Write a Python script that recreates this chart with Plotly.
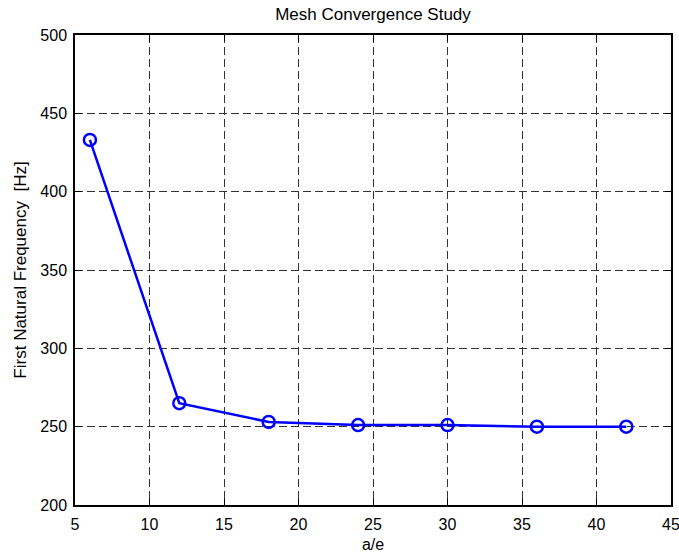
import plotly.graph_objects as go

ae = [6, 12, 18, 24, 30, 36, 42]
freq = [433, 265, 253, 251, 251, 250, 250]

x_ticks = [5, 10, 15, 20, 25, 30, 35, 40, 45]
y_ticks = [200, 250, 300, 350, 400, 450, 500]

FONT = "Liberation Sans, Arial"

fig = go.Figure()
fig.add_trace(go.Scatter(
    x=ae, y=freq, mode="lines+markers",
    line=dict(color="#0000ff", width=2.5),
    marker=dict(symbol="circle-open", size=12, color="#0000ff", line=dict(width=2.5, color="#0000ff")),
    showlegend=False,
))

axis_common = dict(
    showline=True, linecolor="black", linewidth=1.5, mirror="ticks",
    ticks="inside", ticklen=6, tickcolor="black",
    showgrid=True, gridcolor="#333333", griddash="8px,4px", gridwidth=1,
    zeroline=False, ticklabeloverflow="allow", automargin=False,
    tickfont=dict(family=FONT, size=16, color="black"),
)

fig.update_xaxes(range=[5, 45], tickvals=x_ticks, ticktext=[str(v) for v in x_ticks],
                 ticklabelstandoff=4,
                 title=dict(text="a/e", font=dict(family=FONT, size=16, color="black"), standoff=7),
                 **axis_common)
fig.update_yaxes(range=[200, 500], tickvals=y_ticks, ticktext=[str(v) for v in y_ticks],
                 ticklabelstandoff=3,
                 title=dict(text="First Natural Frequency  [Hz]", font=dict(family=FONT, size=17, color="black"), standoff=9),
                 **axis_common)

fig.update_layout(
    width=679, height=554,
    margin=dict(l=75, r=8, t=35, b=49),
    paper_bgcolor="white", plot_bgcolor="white",
    title=dict(text="Mesh Convergence Study", x=0.5, xanchor="center", xref="paper",
               y=1 - 14 / 554, yref="container", yanchor="middle",
               font=dict(family=FONT, size=17, color="black")),
)

fig.write_html("out.html")
